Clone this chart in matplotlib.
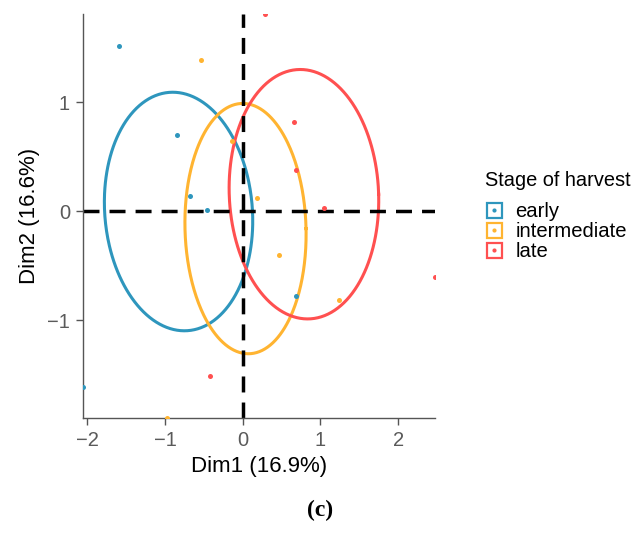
import numpy as np
import matplotlib.pyplot as plt
from matplotlib.lines import Line2D
from matplotlib.legend_handler import HandlerTuple

plt.rcParams['font.family'] = ['Liberation Sans', 'DejaVu Sans']

# PCA individuals by stage of harvest
groups = ['early', 'intermediate', 'late']
colors = ['#2E96BD', '#FFB431', '#FF5050']

early_x = [-1.59, -0.84, -0.68, -0.46, -2.052, 0.68]
early_y = [1.516, 0.70, 0.14, 0.01, -1.61, -0.78]
inter_x = [-0.541, -0.138, 0.184, 0.463, 1.236, -0.974]
inter_y = [1.39, 0.643, 0.119, -0.399, -0.812, -1.902]
late_x = [0.287, 0.66, 0.682, 1.046, 2.475, -0.421]
late_y = [1.813, 0.823, 0.377, 0.033, -0.606, -1.513]

# concentration ellipses: centre, horizontal / vertical half extent, shear
ell_cx = [-0.826, 0.036, 0.788]
ell_cy = [-0.002, -0.159, 0.157]
ell_rx = [0.955, 0.78, 0.963]
ell_ry = [1.096, 1.15, 1.146]
ell_shear = [-0.075, -0.036, -0.047]

xs = [early_x, inter_x, late_x]
ys = [early_y, inter_y, late_y]

fig = plt.figure(figsize=(6.35, 5.34), dpi=100)
ax = fig.add_axes([0.1312, 0.2167, 0.685 - 0.1312, 0.9738 - 0.2167])

t = np.linspace(0, 2 * np.pi, 400)
for i in range(3):
    ux = np.sqrt(ell_rx[i] ** 2 - ell_shear[i] ** 2)
    ex = ell_cx[i] + ux * np.cos(t) + ell_shear[i] * np.sin(t)
    ey = ell_cy[i] + ell_ry[i] * np.sin(t)
    ax.plot(ex, ey, color=colors[i], lw=2.2, zorder=2)

dash = (0, (4.6, 2.9))
ax.axhline(0, color='black', lw=2.5, linestyle=dash, zorder=2.5)
ax.axvline(0, color='black', lw=2.5, linestyle=dash, zorder=2.5)

for i in range(3):
    ax.scatter(xs[i], ys[i], s=13, color=colors[i], linewidths=0, zorder=3)

all_x = early_x + inter_x + late_x
all_y = early_y + inter_y + late_y
ax.set_xlim(min(all_x), max(all_x))
ax.set_ylim(min(all_y), max(all_y))

ax.set_xticks([-2, -1, 0, 1, 2])
ax.set_yticks([-1, 0, 1])
ax.tick_params(axis='both', direction='out', length=5, width=1.0, color='#555555',
               labelcolor='#5a5a5a', labelsize=14.5, pad=4.5)
for side in ['top', 'right']:
    ax.spines[side].set_visible(False)
for side in ['left', 'bottom']:
    ax.spines[side].set_color('#555555')
    ax.spines[side].set_linewidth(1.0)

ax.set_xlabel('Dim1 (16.9%)', fontsize=16, labelpad=4)
ax.set_ylabel('Dim2 (16.6%)', fontsize=16, labelpad=5)

# legend: hollow square key with a dot
handles = []
for c in colors:
    box = Line2D([], [], marker='s', linestyle='none', markersize=10.8,
                 markerfacecolor='none', markeredgecolor=c, markeredgewidth=1.6)
    dot = Line2D([], [], marker='o', linestyle='none', markersize=3,
                 markerfacecolor=c, markeredgecolor='none')
    handles.append((box, dot))

fig.text(485 / 635, 1 - 181 / 534, 'Stage of harvest', fontsize=14.4,
         ha='left', va='center')
fig.legend(handles, groups, handler_map={tuple: HandlerTuple(ndivide=1)},
           loc='upper left', bbox_to_anchor=(485 / 635, 1 - 202 / 534),
           frameon=False, fontsize=14.6, borderpad=0, borderaxespad=0,
           handlelength=0.85, handletextpad=0.65, labelspacing=0.04)

fig.text(0.504, 1 - 510 / 534, '(c)', fontsize=17, fontweight='bold',
         family='Liberation Serif', ha='center', va='center')

fig.savefig('out.png', dpi=100)
